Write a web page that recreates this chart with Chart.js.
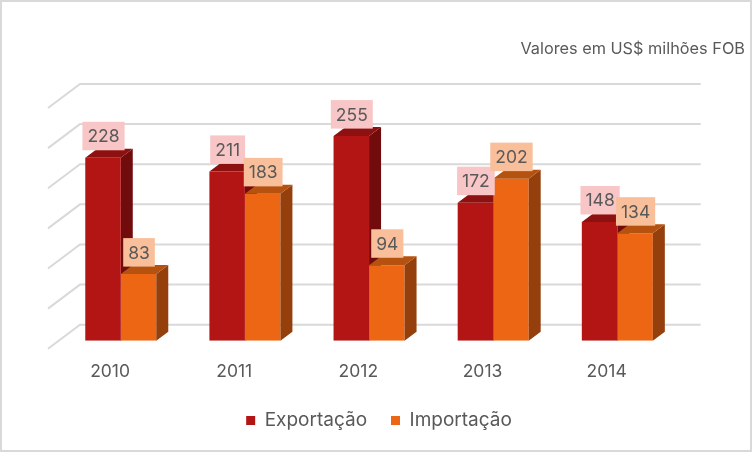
<!DOCTYPE html>
<html><head><meta charset="utf-8">
<script src="https://cdn.jsdelivr.net/npm/chart.js@4.4.1/dist/chart.umd.min.js"></script>
<style>
html,body{margin:0;padding:0;background:#fff;}
#wrap{position:relative;width:752px;height:452px;}
#wrap:after{content:'';position:absolute;left:0;top:0;right:0;bottom:0;border:2px solid #D9D9D9;pointer-events:none;}
canvas{display:block;}
</style></head><body>
<div id="wrap"><canvas id="c" width="752" height="452"></canvas></div>
<script>
const categories = ['2010', '2011', '2012', '2013', '2014'];
const exportacao = [228, 211, 255, 172, 148];
const importacao = [83, 183, 94, 202, 134];
const yTicks = [0, 50, 100, 150, 200, 250, 300];
const seriesNames = ['Exportação', 'Importação'];
const unitNote = 'Valores em US$ milhões FOB';

const FONT = 'Inter';
const TEXT = '#595959';
const BACK = {dx: 21.3, dy: -16};
const FRONT = {dx: -10.7, dy: 8};
const DEPTH = {dx: 12, dy: -9};

Chart.defaults.font.family = FONT;

function poly(ctx, pts) {
  ctx.beginPath();
  ctx.moveTo(pts[0][0], pts[0][1]);
  for (let i = 1; i < pts.length; i++) ctx.lineTo(pts[i][0], pts[i][1]);
  ctx.closePath();
  ctx.fill();
}

function drawFaces(chart, di) {
  const {ctx} = chart;
  const meta = chart.getDatasetMeta(di);
  const ds = chart.data.datasets[di];
  ctx.save();
  meta.data.forEach(bar => {
    const p = bar.getProps(['x', 'y', 'base', 'width'], true);
    const l = p.x - p.width / 2, r = p.x + p.width / 2;
    ctx.fillStyle = ds.sideColor;
    poly(ctx, [[r, p.y], [r + DEPTH.dx, p.y + DEPTH.dy], [r + DEPTH.dx, p.base + DEPTH.dy], [r, p.base]]);
    ctx.fillStyle = ds.topColor;
    poly(ctx, [[l, p.y], [l + DEPTH.dx, p.y + DEPTH.dy], [r + DEPTH.dx, p.y + DEPTH.dy], [r, p.y]]);
  });
  ctx.restore();
}

const threeD = {
  id: 'threeD',
  beforeDatasetsDraw(chart) {
    const {ctx, chartArea: a} = chart;
    const y = chart.scales.y;
    ctx.save();
    ctx.strokeStyle = '#D9D9D9';
    ctx.lineWidth = 2;
    yTicks.forEach(v => {
      const py = y.getPixelForValue(v);
      ctx.beginPath();
      ctx.moveTo(a.left + FRONT.dx, py + FRONT.dy);
      ctx.lineTo(a.left + BACK.dx, py + BACK.dy);
      ctx.lineTo(a.right + BACK.dx, py + BACK.dy);
      ctx.stroke();
    });
    ctx.restore();
    // faces of the first (left) series sit behind the second series' front
    drawFaces(chart, 0);
  },
  afterDatasetsDraw(chart) {
    const {ctx} = chart;
    for (let di = 1; di < chart.data.datasets.length; di++) drawFaces(chart, di);
    ctx.save();
    ctx.font = '17.5px ' + FONT;
    ctx.textAlign = 'center';
    ctx.textBaseline = 'middle';
    chart.data.datasets.forEach((ds, di) => {
      const meta = chart.getDatasetMeta(di);
      meta.data.forEach((bar, i) => {
        const p = bar.getProps(['x', 'y'], true);
        const txt = String(ds.data[i]);
        const w = ctx.measureText(txt).width + 10;
        const h = 28.5;
        const cx = p.x + 0.5;
        const bottom = p.y - 7.5;
        ctx.fillStyle = ds.labelBg;
        ctx.fillRect(cx - w / 2, bottom - h, w, h);
        ctx.fillStyle = TEXT;
        ctx.fillText(txt, cx, bottom - h / 2 + 1);
      });
    });
    const x = chart.scales.x;
    categories.forEach((c, i) => {
      ctx.fillText(c, x.getPixelForValue(i) + FRONT.dx, 372);
    });
    ctx.restore();
  }
};

new Chart(document.getElementById('c'), {
  type: 'bar',
  data: {
    labels: categories,
    datasets: [
      {label: seriesNames[0], data: exportacao, backgroundColor: '#B21514', sideColor: '#720C0C', topColor: '#8E1111', labelBg: '#F8C6C6', borderWidth: 0},
      {label: seriesNames[1], data: importacao, backgroundColor: '#EC6614', sideColor: '#943F0C', topColor: '#B6520F', labelBg: '#F9BF9B', borderWidth: 0}
    ]
  },
  options: {
    responsive: false,
    animation: false,
    events: [],
    layout: {padding: {left: 13, right: 7, top: 0, bottom: 12}},
    datasets: {bar: {categoryPercentage: 0.572, barPercentage: 1}},
    scales: {
      x: {display: true, ticks: {display: false}, grid: {display: false}, border: {display: false}, afterFit(s) { s.height = 46.3; }},
      y: {position: 'left', min: 0, max: 300, display: true, ticks: {display: false}, grid: {display: false}, border: {display: false}, afterFit(s) { s.width = 45.7; }},
      y2: {position: 'right', min: 0, max: 300, display: true, ticks: {display: false}, grid: {display: false}, border: {display: false}, afterFit(s) { s.width = 65.6; }}
    },
    plugins: {
      tooltip: {enabled: false},
      title: {display: true, text: unitNote, align: 'end', color: TEXT, font: {size: 16.3, weight: 'normal', lineHeight: 1.2}, padding: {top: 39.7, bottom: 40.74}},
      legend: {
        position: 'bottom',
        labels: {boxWidth: 9, boxHeight: 9, color: TEXT, font: {size: 19}, padding: 24}
      }
    }
  },
  plugins: [threeD]
});
</script>
</body></html>
